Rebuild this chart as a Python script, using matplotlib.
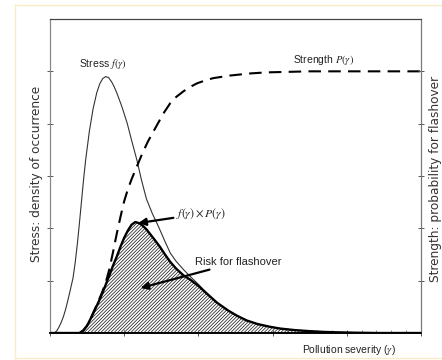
import matplotlib
matplotlib.use('Agg')
import matplotlib.pyplot as plt
from matplotlib.lines import Line2D

plt.rcParams.update({
    'font.family': ['Liberation Sans', 'DejaVu Sans'],
    'mathtext.fontset': 'stix',
    'hatch.linewidth': 0.55,
})

# values (x: severity in tick units, y: in left-tick units)
stress_x = [0.00, 0.06, 0.09, 0.12, 0.15, 0.18, 0.21, 0.24, 0.27, 0.31, 0.34, 0.37,
            0.40, 0.43, 0.455, 0.48, 0.53, 0.58, 0.63, 0.67, 0.71, 0.75, 0.79, 0.83,
            0.86, 0.90, 0.97, 1.04, 1.10, 1.17, 1.23, 1.30, 1.38, 1.46, 1.54, 1.62,
            1.70, 1.80, 1.89, 2.00, 2.10, 2.25, 2.40, 2.52, 2.65, 2.80, 2.96, 3.10,
            3.30, 3.50, 3.70, 3.90, 4.10, 4.40, 5.00]
stress_y = [0.00, 0.00, 0.04, 0.11, 0.20, 0.31, 0.45, 0.62, 0.80, 1.05, 1.35, 1.72,
            2.15, 2.60, 2.97, 3.30, 3.85, 4.28, 4.59, 4.76, 4.86, 4.90, 4.88, 4.80,
            4.72, 4.59, 4.32, 4.01, 3.68, 3.31, 2.94, 2.56, 2.28, 2.04, 1.78, 1.53,
            1.37, 1.21, 1.08, 0.93, 0.78, 0.58, 0.43, 0.33, 0.24, 0.17, 0.12, 0.085,
            0.055, 0.035, 0.02, 0.012, 0.006, 0.0, 0.0]

strength_x = [0.40, 0.45, 0.50, 0.55, 0.60, 0.65, 0.70, 0.75, 0.80, 0.85, 0.90, 0.95,
              1.00, 1.05, 1.10, 1.17, 1.25, 1.32, 1.39, 1.46, 1.54, 1.62, 1.70, 1.80,
              1.90, 1.98, 2.10, 2.20, 2.43, 2.70, 2.92, 3.50, 5.00]
strength_y = [0.00, 0.05, 0.14, 0.28, 0.44, 0.60, 0.77, 0.96, 1.22, 1.55, 1.90, 2.22,
              2.52, 2.75, 2.94, 3.18, 3.45, 3.66, 3.84, 4.02, 4.22, 4.39, 4.51, 4.62,
              4.71, 4.77, 4.83, 4.87, 4.92, 4.96, 4.98, 5.00, 5.00]

risk_x = [0.00, 0.40, 0.45, 0.50, 0.55, 0.60, 0.65, 0.70, 0.75, 0.80, 0.85, 0.90,
          0.95, 1.00, 1.05, 1.10, 1.15, 1.20, 1.25, 1.30, 1.35, 1.40, 1.48, 1.55,
          1.62, 1.70, 1.80, 1.89, 2.00, 2.10, 2.25, 2.40, 2.52, 2.65, 2.80, 2.96,
          3.10, 3.30, 3.50, 3.70, 3.90, 4.10, 4.40, 5.00]
risk_y = [0.00, 0.00, 0.05, 0.14, 0.28, 0.43, 0.58, 0.74, 0.92, 1.10, 1.29, 1.46,
          1.65, 1.82, 1.96, 2.07, 2.12, 2.10, 2.05, 1.98, 1.89, 1.80, 1.65, 1.50,
          1.36, 1.23, 1.10, 1.02, 0.90, 0.77, 0.58, 0.43, 0.33, 0.24, 0.17, 0.12,
          0.085, 0.055, 0.035, 0.02, 0.012, 0.006, 0.0, 0.0]

fig = plt.figure(figsize=(4.42, 3.6), dpi=100)
fig.patch.set_facecolor('white')

# faint frame around the picture
border = '#f6edc6'
fig.add_artist(Line2D([15/442, 1.0], [355/360, 355/360], color=border, lw=1))
fig.add_artist(Line2D([15/442, 15/442], [2/360, 355/360], color=border, lw=1))
fig.add_artist(Line2D([15/442, 1.0], [2/360, 2/360], color=border, lw=1))

ax = fig.add_axes([50/442, 27/360, 371/442, 314/360])

ax.fill_between(risk_x, risk_y, 0, facecolor='white', edgecolor='#222222',
                hatch='/' * 10, linewidth=0)
ax.plot(stress_x, stress_y, color='#333333', lw=0.8)
ax.plot(strength_x, strength_y, color='black', lw=1.5, dashes=(6, 3.5))
ax.plot(risk_x, risk_y, color='black', lw=1.7)

ax.set_xlim(0, 5)
ax.set_ylim(0, 6)
ax.set_xticks([0, 1, 2, 3, 4, 5])
ax.set_xticks([3.2, 3.4, 3.6, 3.8, 4.2, 4.4, 4.6, 4.8], minor=True)
ax.set_yticks([1, 2, 3, 4, 5])
ax.tick_params(axis='both', which='major', direction='inout', length=5,
               width=0.7, color='#555555', labelbottom=False, labelleft=False)
ax.tick_params(axis='x', which='minor', direction='in', length=2, width=0.6,
               color='#777777')

ax2 = ax.twinx()
ax2.set_ylim(0, 6)
ax2.set_yticks([1, 2, 3, 4, 5])
ax2.tick_params(axis='y', direction='inout', length=5, width=0.7,
                color='#555555', labelright=False)

for a in (ax, ax2):
    a.spines['left'].set_color('#888888')
    a.spines['right'].set_color('#777777')
    a.spines['top'].set_color('#444444')
    a.spines['bottom'].set_color('black')
    a.spines['bottom'].set_linewidth(1.2)
    a.spines['left'].set_linewidth(0.8)
    a.spines['right'].set_linewidth(0.8)

# labels
fig.text(37/442, 0.518, 'Stress: density of occurrence', rotation=90,
         ha='center', va='center', fontsize=8.7, color='#333333',
         family='DejaVu Sans')
fig.text(435/442, 0.503, 'Strength: probability for flashover', rotation=90,
         ha='center', va='center', fontsize=8.7, color='#333333',
         family='DejaVu Sans')
fig.text(349/442, (360-350)/360, r'Pollution severity ($\gamma$)',
         ha='center', va='center', fontsize=7.5, color='#222222')

ax.text(0.72, 5.14, r'Stress $f(\gamma)$', ha='center', va='center',
        fontsize=7.5, color='#222222')
ax.text(3.69, 5.22, r'Strength $P(\gamma)$', ha='center', va='center',
        fontsize=7.5, color='#222222')
ax.annotate(r'$f(\gamma)\times P(\gamma)$', xy=(1.19, 2.1), xytext=(1.7, 2.28),
            ha='left', va='center', fontsize=8.5, color='#222222',
            arrowprops=dict(arrowstyle='-|>', color='black', lw=1.6,
                            mutation_scale=11, shrinkA=0, shrinkB=0))
ax.annotate('Risk for flashover', xy=(1.22, 0.86), xytext=(1.96, 1.36),
            ha='left', va='center', fontsize=8, color='#222222',
            arrowprops=dict(arrowstyle='-|>', color='black', lw=1.6,
                            mutation_scale=11, shrinkA=0, shrinkB=0))

fig.savefig('out.png', dpi=100)
